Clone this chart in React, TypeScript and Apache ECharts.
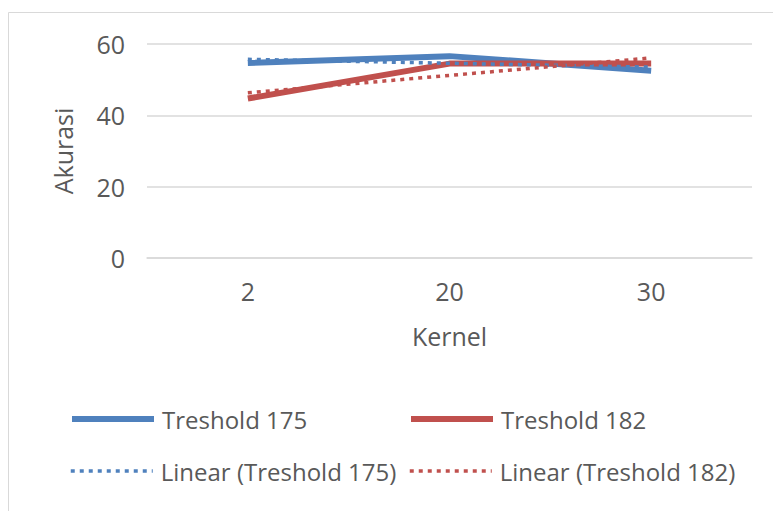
import React, { useEffect, useRef } from "react";
import * as echarts from "echarts";

const categories = ["2", "20", "30"];
const treshold175 = [54.7, 56.6, 52.5];
const treshold182 = [44.7, 54.5, 54.5];
const linear175 = [55.7, 54.6, 53.5];
const linear182 = [46.3, 51.2, 56.1];
const yTicks = [0, 20, 40, 60];

const BLUE = "#4F81BD";
const RED = "#C0504D";
const TEXT = "#595959";
const FONT = "'Open Sans', Lato, sans-serif";
const DOT: number[] = [4, 5];

export default function App() {
  const ref = useRef<HTMLDivElement>(null);
  useEffect(() => {
    document.body.style.margin = "0";
    const chart = echarts.init(ref.current!, null, { renderer: "svg" });
    const legendText = { color: TEXT, fontSize: 24, fontFamily: FONT, padding: [0, 0, 0, 3] };
    const mkLegend = (name: string, left: number, top: number, dotted: boolean) => ({
      data: [name],
      left,
      top,
      padding: 0,
      itemWidth: 82,
      itemHeight: 14,
      itemGap: 0,
      textStyle: legendText,
      selectedMode: false,
      itemStyle: { opacity: 0 },
      lineStyle: dotted ? { width: 3.5, type: DOT } : { width: 6 },
    });
    chart.setOption({
      animation: false,
      graphic: [
        {
          type: "rect",
          shape: { x: 8.5, y: 12.5, width: 900, height: 700 },
          style: { fill: "none", stroke: "#D9D9D9", lineWidth: 1 },
          silent: true,
        },
      ],
      grid: { left: 147, right: 21, top: 44, bottom: 253, containLabel: false },
      legend: [
        mkLegend("Treshold 175", 69, 407, false),
        mkLegend("Treshold 182", 408, 407, false),
        mkLegend("Linear (Treshold 175)", 69, 459, true),
        mkLegend("Linear (Treshold 182)", 408, 459, true),
      ],
      xAxis: {
        type: "category",
        data: categories,
        boundaryGap: true,
        name: "Kernel",
        nameLocation: "middle",
        nameGap: 65,
        nameMoveOverlap: false,
        nameTextStyle: { color: TEXT, fontSize: 25, fontFamily: FONT },
        axisLine: { lineStyle: { color: "#D9D9D9", width: 1.5 } },
        axisTick: { show: false },
        axisLabel: { color: TEXT, fontSize: 25, fontFamily: FONT, margin: 20 },
      },
      yAxis: {
        type: "value",
        min: yTicks[0],
        max: yTicks[yTicks.length - 1],
        interval: 20,
        name: "Akurasi",
        nameLocation: "middle",
        nameGap: 72,
        nameMoveOverlap: false,
        nameRotate: 90,
        nameTextStyle: { color: TEXT, fontSize: 25, fontFamily: FONT },
        axisLine: { show: false },
        axisTick: { show: false },
        axisLabel: { color: TEXT, fontSize: 25, fontFamily: FONT, margin: 22 },
        splitLine: { lineStyle: { color: "#D9D9D9", width: 1.5 } },
      },
      series: [
        {
          name: "Treshold 175",
          type: "line",
          data: treshold175,
          symbol: "none",
          lineStyle: { color: BLUE, width: 6 },
          itemStyle: { color: BLUE },
        },
        {
          name: "Treshold 182",
          type: "line",
          data: treshold182,
          symbol: "none",
          lineStyle: { color: RED, width: 6 },
          itemStyle: { color: RED },
        },
        {
          name: "Linear (Treshold 175)",
          type: "line",
          data: linear175,
          symbol: "none",
          lineStyle: { color: BLUE, width: 3.5, type: DOT },
          itemStyle: { color: BLUE },
        },
        {
          name: "Linear (Treshold 182)",
          type: "line",
          data: linear182,
          symbol: "none",
          lineStyle: { color: RED, width: 3.5, type: DOT },
          itemStyle: { color: RED },
        },
      ],
    });
    return () => chart.dispose();
  }, []);
  return <div ref={ref} style={{ width: 773, height: 511 }} />;
}
